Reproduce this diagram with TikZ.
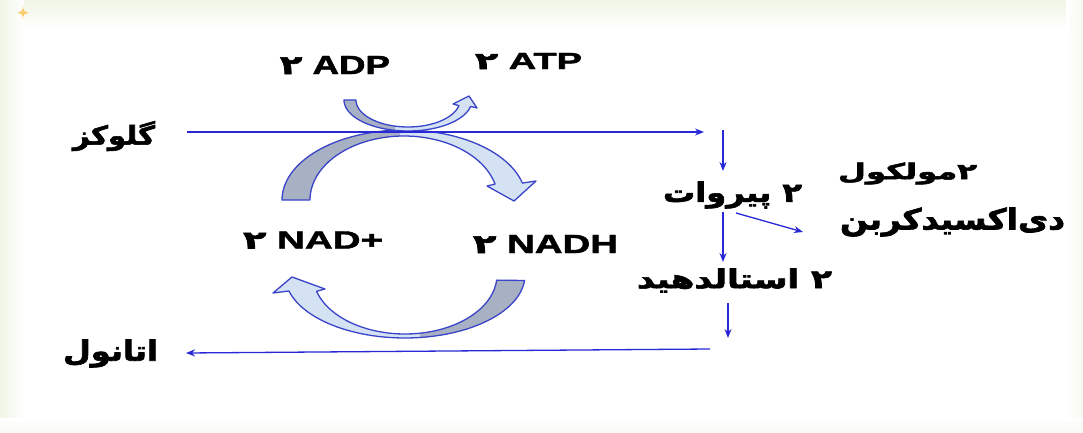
\documentclass[tikz,border=0pt]{standalone}
\usepackage{fontspec}
\usepackage{graphicx}
\setmainfont{Liberation Sans}[BoldFeatures={FakeBold=1.6}]
\newfontfamily\fa[Script=Arabic, BoldFeatures={FakeBold=2.2}]{DejaVu Sans}
\TeXXeTstate=1
\usetikzlibrary{arrows.meta}
\definecolor{ln}{RGB}{40,40,215}
\definecolor{edge}{RGB}{58,68,200}
\definecolor{grayfill}{RGB}{168,177,196}
\definecolor{bluefill}{RGB}{212,226,244}
\definecolor{framecol}{RGB}{240,245,230}
\definecolor{spark}{RGB}{250,205,110}
\newcommand{\fitbox}[3]{\resizebox*{#1pt}{#2pt}{#3}}
\newcommand{\archTop}[1]{\path[#1] plot[domain=180:346,samples=60] ({404+122*cos(\x)},{200+70*sin(\x)}) -- (536,181) -- (514,201) -- (487,186) -- plot[domain=345.6:180,samples=60] ({404+94*cos(\x)},{200+64*sin(\x)}) -- cycle;}
\newcommand{\archSmall}[1]{\path[#1] plot[domain=180:12,samples=50] ({408+64*cos(\x)},{100+31*sin(\x)}) -- (477,108) -- (469,96) -- (453,104) -- plot[domain=12:180,samples=50] ({408+52*cos(\x)},{100+27*sin(\x)}) -- cycle;}
\newcommand{\archBottom}[1]{\path[#1] plot[domain=5:165.3,samples=60] ({405+120*cos(\x)},{275+63*sin(\x)}) -- (273,293) -- (292,277) -- (325,289) -- plot[domain=164:5,samples=60] ({405+92*cos(\x)},{275+59*sin(\x)}) -- cycle;}
\tikzset{
  flow/.style={draw=ln, line width=1.3pt, -{Stealth[length=9pt,width=7pt]}},
  lbl/.style={inner sep=0pt, outer sep=0pt},
  band/.style={draw=edge, line width=1.3pt, line join=round},
}
\begin{document}
\begin{tikzpicture}[x=1pt,y=-1pt]
\useasboundingbox (0,0) rectangle (1083,433);
% background frame
\fill[white] (0,0) rectangle (1083,433);
\shade[top color=framecol, bottom color=white] (0,0) rectangle (1083,30);
\shade[left color=framecol, right color=white] (0,0) rectangle (24,433);
\shade[left color=white, right color=framecol!60] (1066,0) rectangle (1083,433);
\shade[top color=white, bottom color=framecol!50] (0,418) rectangle (1083,433);
\fill[spark] (23,5) .. controls (23.5,11) .. (29,13) .. controls (23.5,14) .. (23,20) .. controls (22.5,14) .. (17,13) .. controls (22.5,11) .. (23,5) -- cycle;

% curved arrows
\archTop{fill=bluefill}
\begin{scope}\clip (0,0) rectangle (400,433); \archTop{fill=grayfill} \end{scope}
\archTop{band}
\archSmall{fill=bluefill}
\begin{scope}\clip (0,0) rectangle (395,433); \archSmall{fill=grayfill} \end{scope}
\archSmall{band}
\archBottom{fill=bluefill}
\begin{scope}\clip (420,0) rectangle (1083,433); \archBottom{fill=grayfill} \end{scope}
\archBottom{band}

% labels
\node[lbl] (adp) at (335,65) {\fitbox{110}{18}{\bfseries{\fa ۲} ADP}};
\node[lbl] (atp) at (528.5,61) {\fitbox{107}{16}{\bfseries{\fa ۲} ATP}};
\node[lbl] (nadp) at (313,240) {\fitbox{140}{17}{\bfseries{\fa ۲} NAD+}};
\node[lbl] (nadh) at (545.5,244) {\fitbox{145}{18}{\bfseries{\fa ۲} NADH}};
\node[lbl] (glc) at (114,136) {\fitbox{82}{30}{\fa\bfseries\beginR گلوکز\endR}};
\node[lbl] (eth) at (110.5,353.5) {\fitbox{95}{28}{\fa\bfseries\beginR اتانول\endR}};
\node[lbl] (pyr) at (732.5,195) {\fitbox{139}{27}{\fa\bfseries\beginR ۲ پیروات\endR}};
\node[lbl] (acet) at (734.5,280.5) {\fitbox{195}{24}{\fa\bfseries\beginR ۲ استالدهید\endR}};
\node[lbl] (mol) at (907.5,173.5) {\fitbox{139}{22}{\fa\bfseries\beginR ۲مولکول\endR}};
\node[lbl] (co2) at (952.5,222) {\fitbox{225}{29}{\fa\bfseries\beginR دی^^^^200cاکسیدکربن\endR}};

% straight arrows
\coordinate (g1) at (187,132);
\coordinate (g2) at (704,132);
\coordinate (p0) at (723,130);
\coordinate (p1) at (723,171);
\coordinate (p2) at (723,212);
\coordinate (p3) at (723,262);
\coordinate (c0) at (736,213);
\coordinate (c1) at (803,232);
\coordinate (a0) at (728,303);
\coordinate (a1) at (728,338);
\coordinate (e0) at (710,349);
\coordinate (e1) at (186,353);
\draw[flow] (g1) -- (g2);
\draw[flow] (p0) -- (p1);
\draw[flow] (p2) -- (p3);
\draw[flow] (c0) -- (c1);
\draw[flow] (a0) -- (a1);
\draw[flow] (e0) -- (e1);
\end{tikzpicture}
\end{document}
